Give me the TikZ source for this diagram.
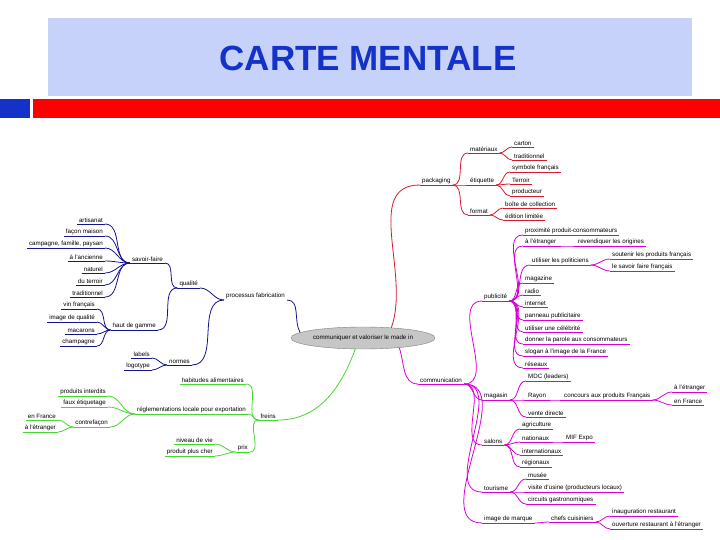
\documentclass[tikz,border=0pt]{standalone}
\usepackage{fontspec}
\setmainfont{Liberation Sans}
\usetikzlibrary{shapes.geometric}
\definecolor{navy}{RGB}{20,20,140}
\definecolor{grn}{RGB}{70,215,50}
\definecolor{rd}{RGB}{215,25,45}
\definecolor{mag}{RGB}{215,0,215}
\definecolor{hdr}{RGB}{198,210,250}
\definecolor{ttl}{RGB}{20,50,200}
\tikzset{lbl/.style={inner xsep=2pt,inner ysep=1pt,font=\fontsize{6.2}{7}\selectfont,text=black},
  br/.style={line width=0.8pt}}
% right-growing node: name, x, y, text, parent, colour
\newcommand\mmR[6]{\node[lbl,anchor=south west] (#1) at (#2,#3) {#4};
  \draw[br,#6] (#1.south west)--(#1.south east);
  \draw[br,#6] (#5.south east) to[out=0,in=180] (#1.south west);}
% left-growing node
\newcommand\mmL[6]{\node[lbl,anchor=south east] (#1) at (#2,#3) {#4};
  \draw[br,#6] (#1.south west)--(#1.south east);
  \draw[br,#6] (#5.south west) to[out=180,in=0] (#1.south east);}
\begin{document}
\begin{tikzpicture}[x=1pt,y=-1pt]
\useasboundingbox (0,0) rectangle (720,540);
\fill[white] (0,0) rectangle (720,540);
\node[fill=hdr,minimum width=644,minimum height=78,anchor=north west,inner sep=0] (hd) at (48,18) {};
\node[font=\fontsize{35}{38}\selectfont\bfseries,text=ttl] (title) at (368,58) {CARTE MENTALE};
\fill[ttl] (0,99) rectangle (30,118);
\fill[red] (33,99) rectangle (720,118);
\node[ellipse,draw=gray,fill=gray!45,minimum width=135,minimum height=22,inner sep=1pt,font=\fontsize{6.2}{7}\selectfont] (c) at (363,338) {communiquer et valoriser le made in};
% blue
\node[lbl,anchor=south east] (proc) at (287,300) {processus fabrication};
\draw[br,navy] (c.175) to[out=120,in=0] (proc.south east);
\mmL{qual}{200}{288}{qualité}{proc}{navy}
\mmL{norm}{192}{365}{normes}{proc}{navy}
\mmL{sf}{165}{263}{savoir-faire}{qual}{navy}
\mmL{hg}{158}{330}{haut de gamme}{qual}{navy}
\mmL{a1}{105}{224}{artisanat}{sf}{navy}
\mmL{a2}{105}{236}{façon maison}{sf}{navy}
\mmL{a3}{105}{248}{campagne, famille, paysan}{sf}{navy}
\mmL{a4}{105}{261}{à l'ancienne}{sf}{navy}
\mmL{a5}{105}{273}{naturel}{sf}{navy}
\mmL{a6}{105}{285}{du terroir}{sf}{navy}
\mmL{a7}{105}{297}{traditionnel}{sf}{navy}
\mmL{h1}{97}{309}{vin français}{hg}{navy}
\mmL{h2}{97}{322}{image de qualité}{hg}{navy}
\mmL{h3}{97}{334}{macarons}{hg}{navy}
\mmL{h4}{97}{346}{champagne}{hg}{navy}
\mmL{n1}{152}{358}{labels}{norm}{navy}
\mmL{n2}{152}{370}{logotype}{norm}{navy}
% green
\node[lbl,anchor=south east] (fr) at (278,420) {freins};
\draw[br,grn] (fr.south west)--(fr.south east);
\draw[br,grn] (c.235) to[out=250,in=0] (fr.south east);
\mmL{hab}{246}{384}{habitudes alimentaires}{fr}{grn}
\mmL{reg}{248}{414}{réglementations locale pour exportation}{fr}{grn}
\mmL{prix}{250}{452}{prix}{fr}{grn}
\mmL{r1}{108}{396}{produits interdits}{reg}{grn}
\mmL{r2}{108}{407}{faux étiquetage}{reg}{grn}
\mmL{r3}{110}{427}{contrefaçon}{reg}{grn}
\mmL{r4}{58}{420}{en France}{r3}{grn}
\mmL{r5}{58}{432}{à l'étranger}{r3}{grn}
\mmL{p1}{215}{444}{niveau de vie}{prix}{grn}
\mmL{p2}{215}{456}{produit plus cher}{prix}{grn}
% red
\node[lbl,anchor=south west] (pk) at (420,185) {packaging};
\draw[br,rd] (pk.south west)--(pk.south east);
\draw[br,rd] (c.20) to[out=70,in=180] (pk.south west);
\mmR{mat}{468}{153}{matériaux}{pk}{rd}
\mmR{eti}{468}{185}{étiquette}{pk}{rd}
\mmR{fmt}{468}{215}{format}{pk}{rd}
\mmR{m1}{512}{147}{carton}{mat}{rd}
\mmR{m2}{512}{160}{traditionnel}{mat}{rd}
\mmR{e1}{510}{172}{symbole français}{eti}{rd}
\mmR{e2}{510}{184}{Terroir}{eti}{rd}
\mmR{e3}{510}{196}{producteur}{eti}{rd}
\mmR{f1}{503}{208}{boîte de collection}{fmt}{rd}
\mmR{f2}{503}{220}{édition limitée}{fmt}{rd}
% magenta
\node[lbl,anchor=south west] (com) at (418,384) {communication};
\draw[br,mag] (com.south west)--(com.south east);
\draw[br,mag] (c.-15) to[out=-70,in=180] (com.south west);
\mmR{pub}{482}{301}{publicité}{com}{mag}
\mmR{mgs}{482}{400}{magasin}{com}{mag}
\mmR{sal}{482}{445}{salons}{com}{mag}
\mmR{tou}{482}{492}{tourisme}{com}{mag}
\mmR{im}{482}{523}{image de marque}{com}{mag}
\mmR{u1}{523}{235}{proximité produit-consommateurs}{pub}{mag}
\mmR{u2}{523}{246}{à l'étranger}{pub}{mag}
\mmR{u2a}{576}{246}{revendiquer les origines}{u2}{mag}
\mmR{u3}{530}{265}{utiliser les politiciens}{pub}{mag}
\mmR{u3a}{610}{259}{soutenir les produits français}{u3}{mag}
\mmR{u3b}{610}{271}{le savoir faire français}{u3}{mag}
\mmR{u4}{523}{283}{magazine}{pub}{mag}
\mmR{u5}{523}{295}{radio}{pub}{mag}
\mmR{u6}{523}{307}{internet}{pub}{mag}
\mmR{u7}{523}{320}{panneau publicitaire}{pub}{mag}
\mmR{u8}{523}{332}{utiliser une célébrité}{pub}{mag}
\mmR{u9}{523}{344}{donner la parole aux consommateurs}{pub}{mag}
\mmR{u10}{523}{356}{slogan à l'image de la France}{pub}{mag}
\mmR{u11}{523}{368}{réseaux}{pub}{mag}
\mmR{g1}{526}{381}{MDC (leaders)}{mgs}{mag}
\mmR{g2}{526}{400}{Rayon}{mgs}{mag}
\mmR{g2a}{562}{400}{concours aux produits Français}{g2}{mag}
\mmR{g2b}{672}{392}{à l'étranger}{g2a}{mag}
\mmR{g2c}{672}{405}{en France}{g2a}{mag}
\mmR{g3}{526}{417}{vente directe}{mgs}{mag}
\mmR{s1}{520}{429}{agriculture}{sal}{mag}
\mmR{s2}{520}{442}{nationaux}{sal}{mag}
\mmR{s2a}{564}{442}{MIF Expo}{s2}{mag}
\mmR{s3}{520}{455}{internationaux}{sal}{mag}
\mmR{s4}{520}{467}{régionaux}{sal}{mag}
\mmR{t1}{526}{479}{musée}{tou}{mag}
\mmR{t2}{526}{492}{visite d'usine (producteurs locaux)}{tou}{mag}
\mmR{t3}{526}{504}{circuits gastronomiques}{tou}{mag}
\mmR{c1}{549}{522}{chefs cuisiniers}{im}{mag}
\mmR{c2}{610}{516}{inauguration restaurant}{c1}{mag}
\mmR{c3}{610}{529}{ouverture restaurant à l'étranger}{c1}{mag}
\end{tikzpicture}
\end{document}
